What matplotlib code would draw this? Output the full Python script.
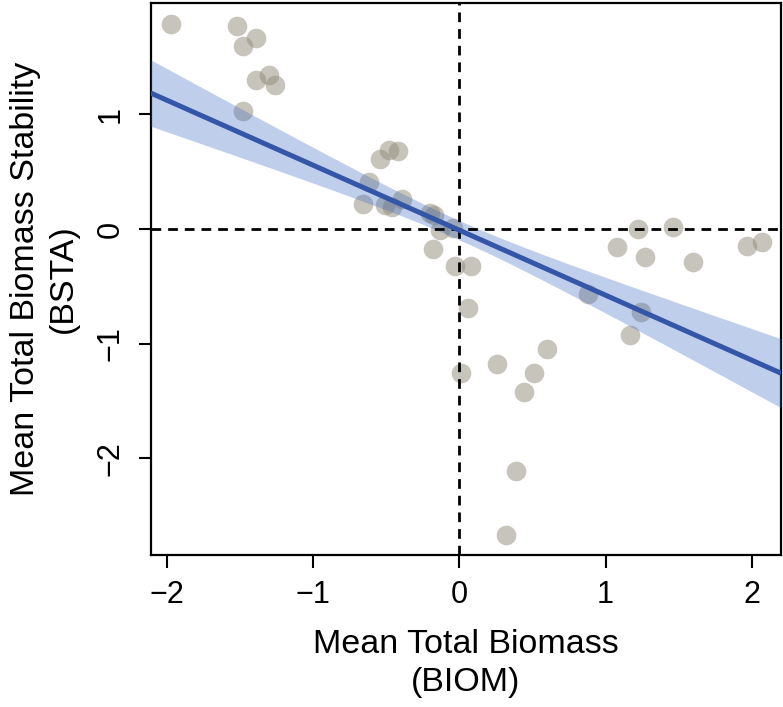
import numpy as np
import matplotlib
matplotlib.use("Agg")
import matplotlib.pyplot as plt

plt.rcParams["font.family"] = ["Liberation Sans", "DejaVu Sans"]

# Standardised site means
biom = [-1.97, -1.52, -1.39, -1.48, -1.39, -1.30, -1.26, -1.48,
        -0.54, -0.48, -0.42, -0.62, -0.66, -0.51, -0.46, -0.39,
        -0.20, -0.17, -0.13, -0.18, -0.04, -0.03, 0.08, 0.06,
        0.01, 0.26, 0.60, 0.51, 0.44, 0.39, 0.32,
        1.22, 1.46, 1.08, 1.27, 1.60, 1.97, 2.07, 0.88, 1.24, 1.17]
bsta = [1.79, 1.77, 1.67, 1.60, 1.30, 1.34, 1.26, 1.03,
        0.61, 0.69, 0.68, 0.41, 0.22, 0.21, 0.19, 0.26,
        0.14, 0.12, -0.01, -0.17, 0.01, -0.32, -0.32, -0.69,
        -1.26, -1.18, -1.05, -1.26, -1.42, -2.11, -2.67,
        0.00, 0.02, -0.16, -0.24, -0.29, -0.15, -0.11, -0.57, -0.72, -0.92]

# Fitted model: BSTA ~ BIOM
fit_intercept = -0.01
fit_slope = -0.567
fit_se_intercept = 0.043
fit_se_slope = 0.067

x_ticks = [-2, -1, 0, 1, 2]
y_ticks = [-2, -1, 0, 1]
x_lim = (-2.11, 2.20)
y_lim = (-2.84, 1.97)

fig = plt.figure(figsize=(7.83, 7.07), dpi=100)
ax = fig.add_axes([0.1925, 0.2155, 0.805, 0.780])

ax.scatter(biom, bsta, s=200, color="#918B79", alpha=0.5, linewidths=0, zorder=2)

xs = np.linspace(x_lim[0], x_lim[1], 200)
ys = fit_intercept + fit_slope * xs
half = 1.96 * np.sqrt(fit_se_intercept ** 2 + (xs * fit_se_slope) ** 2)
ax.fill_between(xs, ys - half, ys + half, color="#3F6CC0", alpha=0.33,
                linewidth=0, zorder=3)

ax.axhline(0, color="black", linestyle=(0, (3.5, 2.5)), linewidth=2.0, zorder=4)
ax.axvline(0, color="black", linestyle=(0, (3.5, 2.5)), linewidth=2.0, zorder=4)

ax.plot(xs, ys, color="#3356A8", linewidth=3.6, zorder=5, solid_capstyle="butt")

ax.set_xlim(*x_lim)
ax.set_ylim(*y_lim)
ax.set_xticks(x_ticks)
ax.set_yticks(y_ticks)
ax.set_xticklabels([str(v).replace("-", "\u2212") for v in x_ticks])
ax.set_yticklabels([str(v).replace("-", "\u2212") for v in y_ticks],
                   rotation=90, va="center")
ax.tick_params(axis="both", length=9, width=1.5, labelsize=22, pad=9,
               direction="out")

for sp in ax.spines.values():
    sp.set_linewidth(1.6)

ax.set_xlabel("Mean Total Biomass\n(BIOM)", fontsize=24.5, labelpad=14,
              linespacing=1.3)
ax.set_ylabel("Mean Total Biomass Stability\n(BSTA)", fontsize=24.5,
              labelpad=12, linespacing=1.3)

fig.savefig("out.png", dpi=100)
